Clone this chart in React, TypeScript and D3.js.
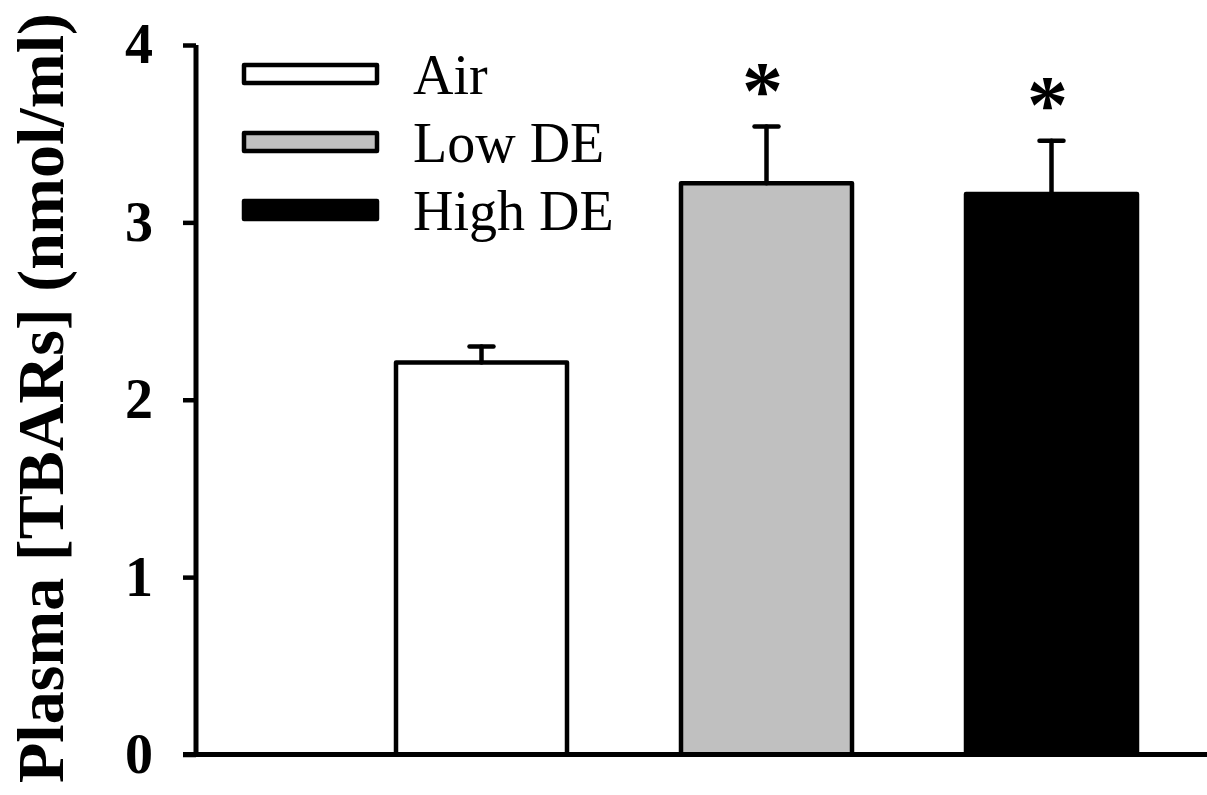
import React, { useRef, useEffect } from 'react';
import * as d3 from 'd3';

const groups = ['Air', 'Low DE', 'High DE'];
const means = [2.21, 3.22, 3.16];
const errors = [0.09, 0.32, 0.30];
const fills = ['#ffffff', '#c0c0c0', '#000000'];
const starred = [false, true, true];
const yTicks = [0, 1, 2, 3, 4];
const yTitle = 'Plasma [TBARs] (nmol/ml)';

const FONT = 'Liberation Serif';

export default function App() {
    const chartRef = useRef<SVGSVGElement>(null);
    const width = 1207, height = 795;

    useEffect(() => {
        const svg = d3.select(chartRef.current);
        svg.selectAll('*').remove();

        const axisX = 196, axisY0 = 754.5;

        const yScale = d3.scaleLinear()
            .domain([0, 4])
            .range([axisY0, 45]);

        const xScale = d3.scaleBand()
            .domain(groups)
            .range([339, 1194])
            .paddingInner(0.4)
            .paddingOuter(0.2);

        // bars
        svg.append('g').selectAll('rect').data(groups).join('rect')
            .attr('x', d => xScale(d)!)
            .attr('y', (d, i) => yScale(means[i]))
            .attr('width', xScale.bandwidth())
            .attr('height', (d, i) => yScale(0) - yScale(means[i]))
            .attr('fill', (d, i) => fills[i])
            .attr('stroke', '#000')
            .attr('stroke-width', 4.5)
            .attr('stroke-linejoin', 'round');

        // error bars (upper only) + significance marks
        const eb = svg.append('g').attr('stroke', '#000').attr('stroke-width', 4.5).attr('stroke-linecap', 'round');
        groups.forEach((g, i) => {
            const cx = xScale(g)! + xScale.bandwidth() / 2;
            const top = yScale(means[i] + errors[i]);
            eb.append('line')
                .attr('x1', cx).attr('x2', cx)
                .attr('y1', yScale(means[i])).attr('y2', top);
            eb.append('line')
                .attr('x1', cx - 12).attr('x2', cx + 12)
                .attr('y1', top).attr('y2', top);
            if (starred[i]) {
                svg.append('text')
                    .attr('x', cx - 4)
                    .attr('y', top - 9)
                    .attr('text-anchor', 'middle')
                    .attr('font-family', FONT)
                    .attr('font-weight', 'bold')
                    .attr('font-size', 82)
                    .text('*');
            }
        });

        // axes
        const yAxis = d3.axisLeft(yScale).tickValues(yTicks).tickSize(13).tickPadding(30).tickFormat(d3.format('d'));
        const yg = svg.append('g').attr('transform', `translate(${axisX},0)`).call(yAxis);
        yg.attr('font-family', FONT);
        yg.select('.domain').attr('d', `M0,${yScale(4)}V${axisY0}`).attr('stroke-width', 5);
        yg.selectAll('.tick line').attr('stroke-width', 4.5);
        yg.selectAll('.tick text')
            .attr('font-weight', 'bold')
            .attr('font-size', 56)
            .attr('fill', '#000');

        svg.append('line')
            .attr('x1', 183).attr('x2', width)
            .attr('y1', axisY0).attr('y2', axisY0)
            .attr('stroke', '#000').attr('stroke-width', 5);

        // y title
        svg.append('text')
            .attr('transform', `translate(63,${398}) rotate(-90)`)
            .attr('text-anchor', 'middle')
            .attr('font-family', FONT)
            .attr('font-weight', 'bold')
            .attr('font-size', 66)
            .text(yTitle);

        // legend
        const lg = svg.append('g');
        groups.forEach((g, i) => {
            const cy = 74 + i * 68;
            lg.append('rect')
                .attr('x', 244).attr('y', cy - 9)
                .attr('width', 133).attr('height', 18)
                .attr('fill', fills[i])
                .attr('stroke', '#000').attr('stroke-width', 4.5)
                .attr('stroke-linejoin', 'round');
            lg.append('text')
                .attr('x', 413).attr('y', cy + 20)
                .attr('font-family', FONT)
                .attr('font-size', 56)
                .text(g);
        });
    }, []);

    return (
        <div style={{ position: 'fixed', left: 0, top: 0 }}>
            <svg width={width + 'px'} height={height + 'px'} ref={chartRef} style={{ display: 'block', background: '#fff' }} />
        </div>
    );
}
